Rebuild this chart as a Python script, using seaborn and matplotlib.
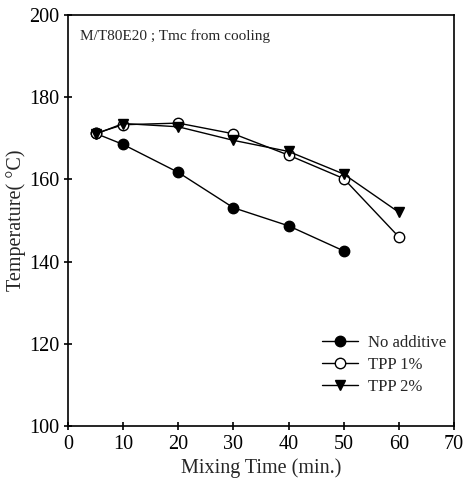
import numpy as np
import pandas as pd
import matplotlib
matplotlib.use("Agg")
import matplotlib.pyplot as plt
import seaborn as sns

# values
time_none = [5, 10, 20, 30, 40, 50]
temp_none = [171.2, 168.5, 161.7, 153.1, 148.7, 142.6]

time_tpp1 = [5, 10, 20, 30, 40, 50, 60]
temp_tpp1 = [171.2, 173.3, 173.7, 171.1, 165.9, 160.2, 146.0]

time_tpp2 = [5, 10, 20, 30, 40, 50, 60]
temp_tpp2 = [171.0, 173.6, 172.8, 169.5, 166.8, 161.3, 152.0]

series_names = ["No additive", "TPP 1%", "TPP 2%"]

df = pd.concat([
    pd.DataFrame({"time": time_none, "temp": temp_none, "series": series_names[0]}),
    pd.DataFrame({"time": time_tpp1, "temp": temp_tpp1, "series": series_names[1]}),
    pd.DataFrame({"time": time_tpp2, "temp": temp_tpp2, "series": series_names[2]}),
])

sns.set_style("ticks")
plt.rcParams["font.family"] = ["Liberation Serif", "DejaVu Serif"]

fig = plt.figure(figsize=(4.66, 4.92), dpi=100)
ax = fig.add_axes([68 / 466, 1 - 426 / 492, (454 - 68) / 466, (426 - 15) / 492])

styles = {
    "No additive": dict(marker="o", markerfacecolor="black"),
    "TPP 1%": dict(marker="o", markerfacecolor="white"),
    "TPP 2%": dict(marker="v", markerfacecolor="black"),
}
for name in series_names:
    sub = df[df["series"] == name]
    sns.lineplot(data=sub, x="time", y="temp", ax=ax, color="black", lw=1.0,
                 markersize=7.5, markeredgecolor="black", markeredgewidth=1.0,
                 label=name, **styles[name])

ax.set_xlim(0, 70)
ax.set_ylim(100, 200)
ax.set_xticks(range(0, 71, 10))
ax.set_yticks(range(100, 201, 20))
ax.tick_params(direction="inout", length=6, width=1.2, labelsize=14.5, colors="black")
for s in ax.spines.values():
    s.set_color("black")
    s.set_linewidth(1.2)

ax.set_xlabel("Mixing Time (min.)", fontsize=14.5, labelpad=3)
ax.set_ylabel("Temperature( \u00b0C)", fontsize=14.5, labelpad=2)
ax.text(0.03, 0.965, "M/T80E20 ; Tmc from cooling", transform=ax.transAxes,
        fontsize=11, va="top", ha="left")

ax.legend(loc="lower right", bbox_to_anchor=(1.02, 0.04), frameon=False,
          fontsize=12, handlelength=2.2, handletextpad=0.6, labelspacing=0.35)

fig.savefig("out.png", dpi=100)
